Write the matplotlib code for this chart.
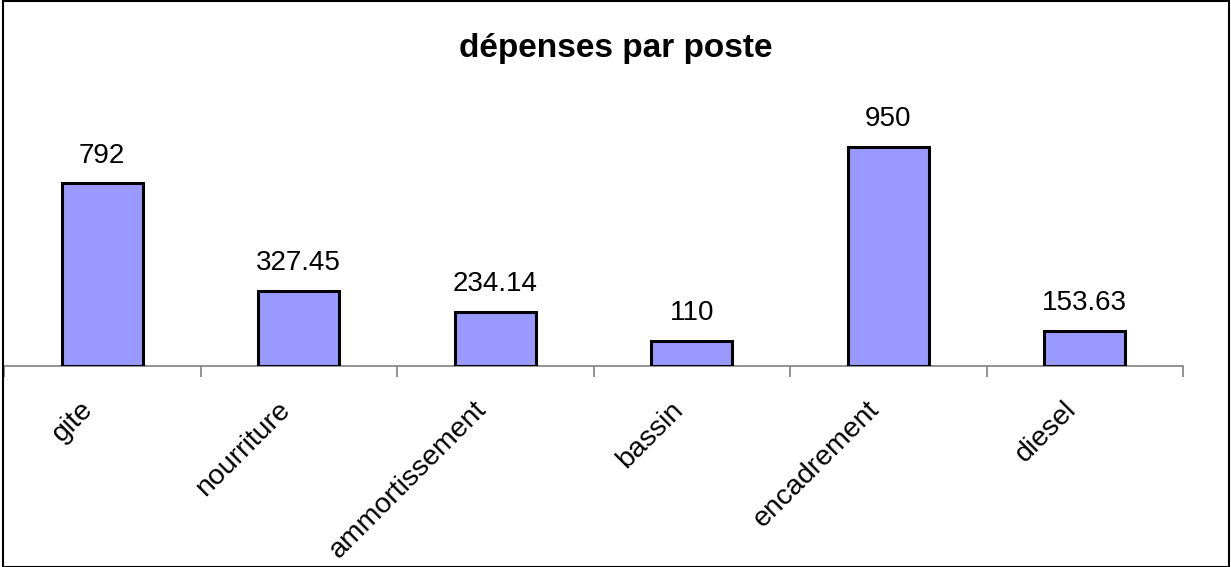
import matplotlib.pyplot as plt
import matplotlib.transforms as mtransforms
import numpy as np

postes = ['gite', 'nourriture', 'ammortissement', 'bassin', 'encadrement', 'diesel']
depenses = [792, 327.45, 234.14, 110, 950, 153.63]
etiquettes = ['792', '327.45', '234.14', '110', '950', '153.63']

plt.rcParams['font.family'] = ['Liberation Sans', 'DejaVu Sans']

W, H = 1231, 567
fig = plt.figure(figsize=(W / 100, H / 100), dpi=100)

# zone de tracé en pixels: gauche 4, droite 1183, base 366
x0, x1, yb, yt = 4, 1183, 366, 135.5
ax = fig.add_axes([x0 / W, 1 - yb / H, (x1 - x0) / W, (yb - yt) / H])

x = np.arange(len(postes))
ax.bar(x, depenses, width=0.41, color='#9999ff', edgecolor='black', linewidth=2.2, zorder=3)
for xi, v, t in zip(x, depenses, etiquettes):
    ax.annotate(t, (xi, v), xytext=(0, 10.5), textcoords='offset points',
                ha='center', va='bottom', fontsize=20)

ax.set_xlim(-0.5, len(postes) - 0.5)
ax.set_ylim(0, 1000)
ax.set_xticks(np.arange(len(postes) + 1) - 0.5)
ax.set_xticklabels([])
ax.tick_params(axis='x', which='major', length=8, color='#808080', width=1.2, direction='out')
ax.set_xticks(x, minor=True)
ax.set_xticklabels(postes, minor=True, rotation=45, ha='right', rotation_mode='anchor', fontsize=20.5)
ax.tick_params(axis='x', which='minor', length=0, pad=22)
decalage = mtransforms.ScaledTranslation(-22 / 100, 0, fig.dpi_scale_trans)
for lab in ax.xaxis.get_minorticklabels():
    lab.set_transform(lab.get_transform() + decalage)
ax.set_yticks([])
for s in ['top', 'left', 'right']:
    ax.spines[s].set_visible(False)
ax.spines['bottom'].set_color('#808080')
ax.spines['bottom'].set_linewidth(1.2)
ax.patch.set_alpha(0)

fig.text(0.5, 1 - 48 / H, 'dépenses par poste', ha='center', va='center', fontsize=24, fontweight='bold')

# cadre du graphique
cadre = plt.Rectangle((3 / W, 0.5 / H), (W - 5) / W, (H - 1.5) / H, transform=fig.transFigure,
                      fill=False, edgecolor='black', linewidth=1.5)
fig.patches.append(cadre)

fig.savefig('out.png', dpi=100)
